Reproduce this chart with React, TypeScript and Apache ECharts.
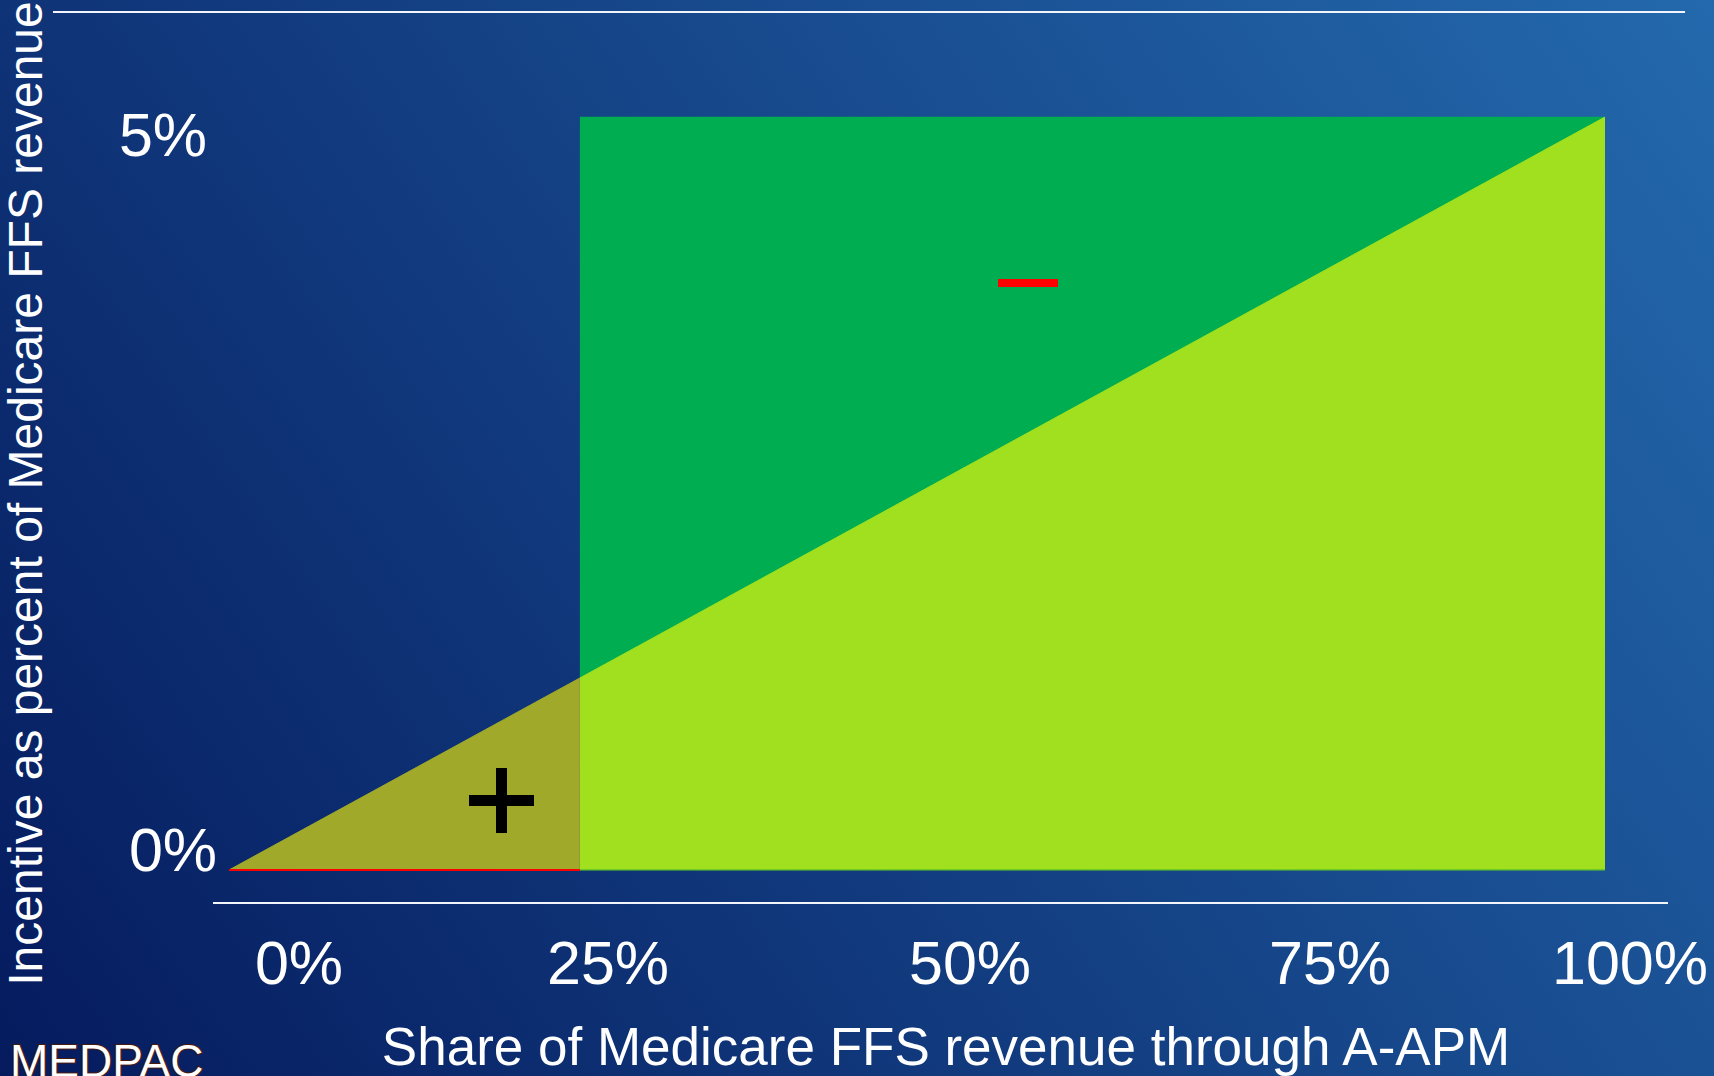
import { useEffect, useRef } from "react";
import * as echarts from "echarts";

// ---- data ----
const xTickLabels = ["0%", "25%", "50%", "75%", "100%"];
const yTickLabels = ["5%", "0%"];
const xAxisTitle = "Share of Medicare FFS revenue through A-APM";
const yAxisTitle = "Incentive as percent of Medicare FFS revenue";
const logoText = "MEDPAC";

// share of revenue (%) vs incentive (% of revenue)
const bonusZone = [
  [25.5, 5],
  [100, 5],
];
const incentiveAbove = [
  [25.5, 1.275],
  [100, 5],
];
const incentiveBelow = [
  [0, 0],
  [25.5, 1.275],
];
const zeroLineBelow = [
  [0, 0],
  [25.5, 0],
];
const zeroLineAbove = [
  [25.5, 0],
  [100, 0],
];

// ---- layout ----
const W = 1714;
const H = 1076;
const FONT = "'Liberation Sans', Arial, sans-serif";
const xTickCenters = [299, 608, 970, 1330, 1630];
const xTickY = 963;
const yTickPos = [
  [163, 135],
  [173, 850],
];

export default function App() {
  const ref = useRef<HTMLDivElement>(null);

  useEffect(() => {
    if (!ref.current) return;
    const chart = echarts.init(ref.current, undefined, { renderer: "svg" });

    const graphics: any[] = [
      {
        type: "rect",
        silent: true,
        z: -100,
        shape: { x: 0, y: 0, width: W, height: H },
        style: {
          fill: new echarts.graphic.LinearGradient(
            0,
            H,
            1649,
            -92,
            [
              { offset: 0, color: "#051b5e" },
              { offset: 1, color: "#2469ad" },
            ],
            true
          ),
        },
      },
      {
        type: "line",
        silent: true,
        shape: { x1: 53, y1: 12, x2: 1685, y2: 12 },
        style: { stroke: "#f2f5fb", lineWidth: 2 },
      },
      {
        type: "line",
        silent: true,
        shape: { x1: 213, y1: 903, x2: 1668, y2: 903 },
        style: { stroke: "#f2f5fb", lineWidth: 2 },
      },
      ...xTickLabels.map((t, i) => ({
        type: "text",
        silent: true,
        x: xTickCenters[i],
        y: xTickY,
        style: {
          text: t,
          fill: "#ffffff",
          font: `61px ${FONT}`,
          align: "center",
          verticalAlign: "middle",
        },
      })),
      ...yTickLabels.map((t, i) => ({
        type: "text",
        silent: true,
        x: yTickPos[i][0],
        y: yTickPos[i][1],
        style: {
          text: t,
          fill: "#ffffff",
          font: `61px ${FONT}`,
          align: "center",
          verticalAlign: "middle",
        },
      })),
      // plus sign
      {
        type: "rect",
        silent: true,
        z: 100,
        shape: { x: 496, y: 768, width: 11, height: 65 },
        style: { fill: "#000000" },
      },
      {
        type: "rect",
        silent: true,
        z: 100,
        shape: { x: 469, y: 795, width: 65, height: 11 },
        style: { fill: "#000000" },
      },
      // minus sign
      {
        type: "rect",
        silent: true,
        z: 100,
        shape: { x: 998, y: 279, width: 60, height: 8 },
        style: { fill: "#ff0000" },
      },
      // logo
      {
        type: "text",
        silent: true,
        x: 10,
        y: 1084,
        style: {
          text: logoText,
          fill: "#ffffff",
          stroke: "#4a1a0a",
          lineWidth: 2,
          font: `46px ${FONT}`,
          align: "left",
          verticalAlign: "bottom",
        },
      },
    ];

    const area = (data: number[][], color: string, z: number) => ({
      type: "line",
      data,
      symbol: "none",
      silent: true,
      z,
      lineStyle: { color, width: 1 },
      areaStyle: { color, opacity: 1 },
    });

    chart.setOption({
      animation: false,
      grid: {
        left: 229,
        top: 117,
        width: 1376,
        height: 753,
        containLabel: false,
        outerBoundsMode: "none",
      },
      xAxis: {
        type: "value",
        min: 0,
        max: 100,
        axisLine: { show: false },
        axisTick: { show: false },
        axisLabel: { show: false },
        splitLine: { show: false },
        name: xAxisTitle,
        nameLocation: "middle",
        nameGap: 150,
        nameTextStyle: {
          color: "#ffffff",
          fontSize: 53,
          fontFamily: FONT,
          padding: [0, 0, 0, 58],
        },
      },
      yAxis: {
        type: "value",
        min: 0,
        max: 5,
        axisLine: { show: false },
        axisTick: { show: false },
        axisLabel: { show: false },
        splitLine: { show: false },
        name: yAxisTitle,
        nameLocation: "middle",
        nameRotate: 90,
        nameGap: 180,
        nameTextStyle: {
          color: "#ffffff",
          fontSize: 48,
          fontFamily: FONT,
        },
      },
      graphic: graphics,
      series: [
        area(bonusZone, "#00ad50", 2),
        area(incentiveAbove, "#a0e01e", 3),
        area(incentiveBelow, "#a1a92b", 3),
        {
          type: "line",
          data: zeroLineAbove,
          symbol: "none",
          silent: true,
          z: 4,
          lineStyle: { color: "#5cc02a", width: 1.5 },
        },
        {
          type: "line",
          data: zeroLineBelow,
          symbol: "none",
          silent: true,
          z: 4,
          lineStyle: { color: "#ff0000", width: 2 },
        },
      ],
    });

    return () => chart.dispose();
  }, []);

  return (
    <div
      ref={ref}
      style={{ position: "absolute", left: 0, top: 0, width: W, height: H }}
    />
  );
}
